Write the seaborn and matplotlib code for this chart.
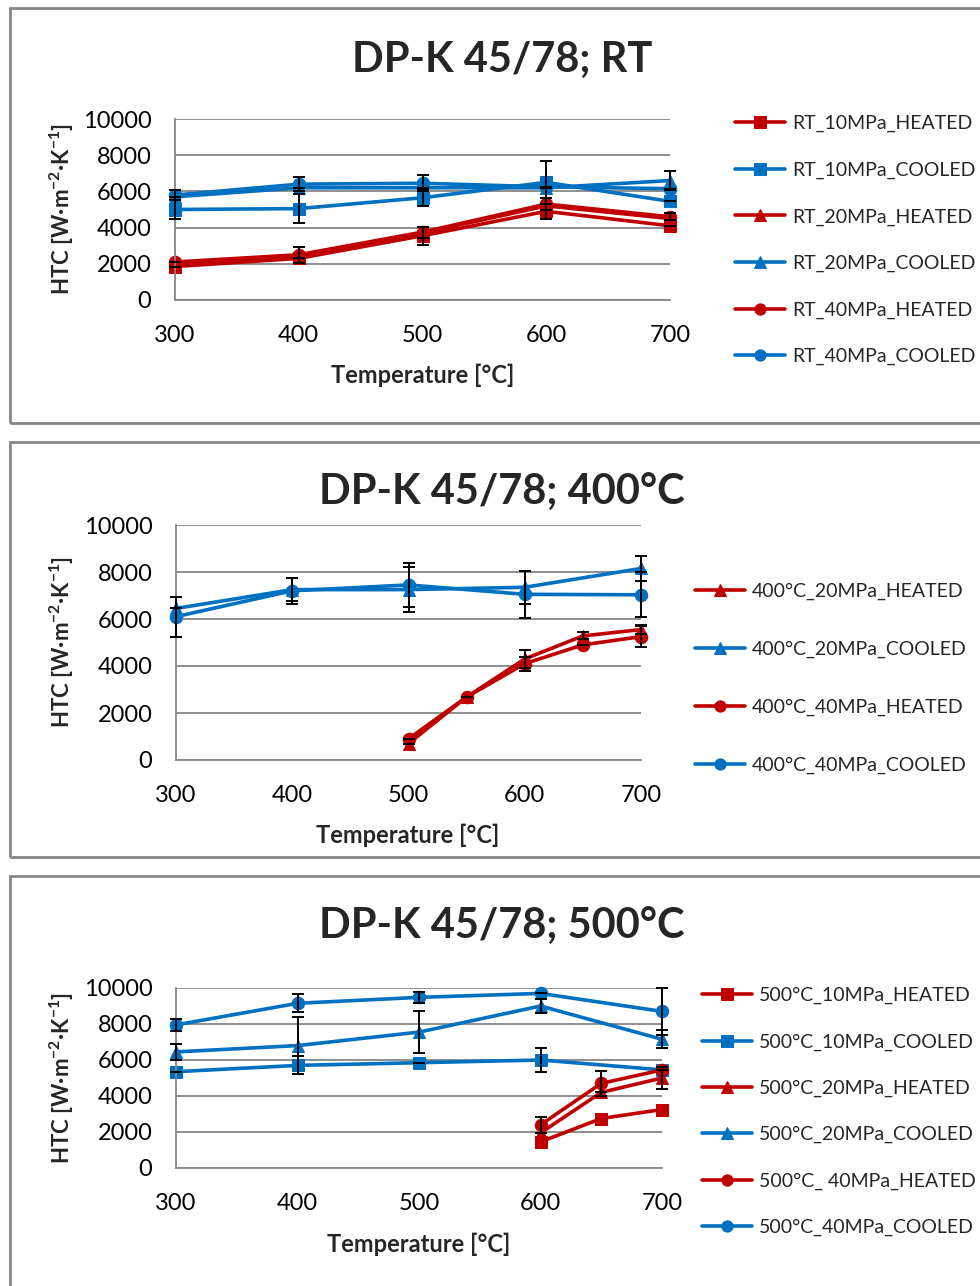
import matplotlib
matplotlib.use("Agg")
import matplotlib.pyplot as plt
from matplotlib.patches import Rectangle
import seaborn as sns

# ---- data -------------------------------------------------------------
T_full = [300, 400, 500, 600, 700]

# panel 1: RT
rt_labels = ["RT_10MPa_HEATED", "RT_10MPa_COOLED", "RT_20MPa_HEATED",
             "RT_20MPa_COOLED", "RT_40MPa_HEATED", "RT_40MPa_COOLED"]
rt_x = [T_full] * 6
rt_y = [[1850, 2300, 3550, 4900, 4100],
        [5000, 5050, 5650, 6500, 5450],
        [2000, 2400, 3700, 5200, 4500],
        [5700, 6200, 6200, 6200, 6600],
        [2100, 2500, 3750, 5300, 4600],
        [5800, 6400, 6450, 6250, 6150]]
rt_err = [[0, 0, 500, 400, 0],
          [550, 800, 480, 1200, 0],
          [0, 0, 0, 0, 0],
          [0, 0, 0, 0, 550],
          [0, 450, 300, 330, 200],
          [250, 400, 450, 0, 0]]

# panel 2: 400 C
c400_labels = ["400°C_20MPa_HEATED", "400°C_20MPa_COOLED",
               "400°C_40MPa_HEATED", "400°C_40MPa_COOLED"]
T_hot400 = [500, 550, 600, 650, 700]
c400_x = [T_hot400, T_full, T_hot400, T_full]
c400_y = [[700, 2680, 4300, 5280, 5550],
          [6450, 7250, 7250, 7350, 8150],
          [900, 2680, 4100, 4900, 5250],
          [6100, 7200, 7450, 7050, 7030]]
c400_err = [[0, 0, 400, 150, 200],
            [0, 500, 950, 700, 550],
            [0, 0, 300, 0, 450],
            [850, 550, 950, 1000, 950]]

# panel 3: 500 C
c500_labels = ["500°C_10MPa_HEATED", "500°C_10MPa_COOLED", "500°C_20MPa_HEATED",
               "500°C_20MPa_COOLED", "500°C_ 40MPa_HEATED", "500°C_40MPa_COOLED"]
T_hot500 = [600, 650, 700]
c500_x = [T_hot500, T_full, T_hot500, T_full, T_hot500, T_full]
c500_y = [[1450, 2750, 3250],
          [5350, 5700, 5850, 6000, 5450],
          [1950, 4200, 5000],
          [6450, 6800, 7550, 9000, 7150],
          [2400, 4700, 5450],
          [7950, 9150, 9480, 9700, 8700]]
c500_err = [[0, 0, 0],
            [0, 500, 0, 650, 0],
            [0, 0, 600],
            [450, 1600, 1150, 380, 500],
            [450, 700, 0],
            [350, 500, 300, 0, 1300]]

RED = "#C00000"
BLUE = "#0070C0"
GRID = "#868686"

W, H = 980, 1286

sns.set_theme(style="white")
plt.rcParams["font.family"] = ["Lato", "DejaVu Sans"]
plt.rcParams["mathtext.fontset"] = "custom"
plt.rcParams["mathtext.rm"] = "Lato"
plt.rcParams["mathtext.bf"] = "Lato:bold"

fig = plt.figure(figsize=(W / 100, H / 100), dpi=100)


def fx(px):
    return px / W


def fy(py):
    return 1 - py / H


def panel(box, rect, title_y, xlabel_pos, labels, xs, ys, errs, markers,
          leg_anchor, leg_spacing, title):
    # outer frame of the chart
    bx0, by0, bx1, by1 = box
    fig.add_artist(Rectangle((fx(bx0), fy(by1)), fx(bx1 - bx0), (by1 - by0) / H,
                             transform=fig.transFigure, fill=False,
                             edgecolor=GRID, linewidth=2, clip_on=False))
    l, t, r, b = rect
    ax = fig.add_axes([fx(l), fy(b), fx(r - l), (b - t) / H])
    for lab, x, y, e, m in zip(labels, xs, ys, errs, markers):
        col = RED if "HEATED" in lab else BLUE
        sns.lineplot(x=x, y=y, ax=ax, color=col, marker=m, markersize=9,
                     markeredgecolor=col, linewidth=2.6, label=lab, clip_on=False)
        if any(e):
            eb = ax.errorbar(x, y, yerr=e, fmt="none", ecolor="black",
                             elinewidth=1.4, capsize=4, capthick=1.4, zorder=5)
            for art in eb.lines[1] + eb.lines[2]:
                art.set_clip_on(False)
    ax.set_xlim(300, 700)
    ax.set_ylim(0, 10000)
    ax.set_xticks(T_full)
    ax.set_yticks(range(0, 10001, 2000))
    ax.grid(axis="y", color=GRID, linewidth=1.3)
    ax.set_axisbelow(True)
    for s in ["top", "right"]:
        ax.spines[s].set_visible(False)
    for s in ["left", "bottom"]:
        ax.spines[s].set_color(GRID)
        ax.spines[s].set_linewidth(1.3)
    ax.tick_params(axis="both", length=0, labelsize=17, colors="black")
    ax.tick_params(axis="x", pad=18)
    ax.tick_params(axis="y", pad=17)
    ax.set_xlabel("")
    ax.set_ylabel("")
    fig.text(fx(502), fy(title_y), title, ha="center", va="center",
             fontsize=30, fontweight="bold")
    fig.text(fx(xlabel_pos[0]), fy(xlabel_pos[1]), "Temperature [°C]",
             ha="center", va="center", fontsize=17, fontweight="bold")
    fig.text(fx(62), fy((t + b) / 2), r"HTC [W·m$^{\mathbf{-2}}$·K$^{\mathbf{-1}}$]",
             ha="center", va="center", rotation=90, fontsize=16, fontweight="bold")
    h, lb = ax.get_legend_handles_labels()
    ax.legend(h, lb, loc="upper left", bbox_to_anchor=(fx(leg_anchor[0]), fy(leg_anchor[1])),
              bbox_transform=fig.transFigure, frameon=False, borderaxespad=0,
              borderpad=0, fontsize=14, handlelength=2.57, handletextpad=0.36,
              labelspacing=leg_spacing, markerscale=0.9)
    return ax


panel((10, 8, 1000, 423), (175, 119, 670, 300), 60, (423, 375),
      rt_labels, rt_x, rt_y, rt_err, ["s", "s", "^", "^", "o", "o"],
      (735, 115), 1.51, "DP-K 45/78; RT")

panel((10, 442, 1000, 857), (176, 525, 641, 760), 493, (408, 835),
      c400_labels, c400_x, c400_y, c400_err, ["^", "^", "o", "o"],
      (695, 583), 2.09, "DP-K 45/78; 400°C")

panel((10, 876, 1000, 1300), (176, 988, 662, 1168), 927, (419, 1244),
      c500_labels, c500_x, c500_y, c500_err, ["s", "s", "^", "^", "o", "o"],
      (702, 987), 1.49, "DP-K 45/78; 500°C")

fig.savefig("out.png", dpi=100)
